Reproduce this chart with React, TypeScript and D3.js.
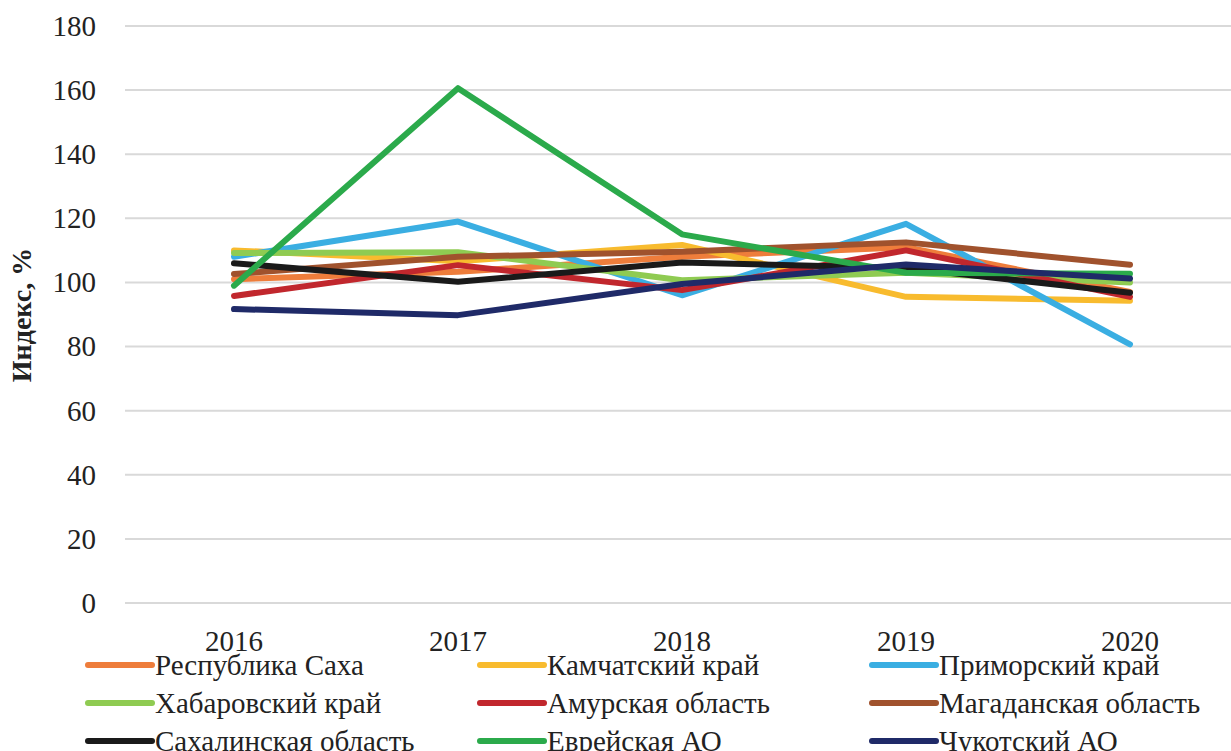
import React from "react";
import * as d3 from "d3";

const years = ["2016", "2017", "2018", "2019", "2020"];
const yTicks = [0, 20, 40, 60, 80, 100, 120, 140, 160, 180];

const seriesNames = [
  "Республика Саха",
  "Камчатский край",
  "Приморский край",
  "Хабаровский край",
  "Амурская область",
  "Магаданская область",
  "Сахалинская область",
  "Еврейская АО",
  "Чукотский АО",
];
const seriesColors = [
  "#EE7D3B",
  "#F8BB2E",
  "#3AAEE2",
  "#8FCB52",
  "#C1272D",
  "#A0522D",
  "#1A1A1A",
  "#2BAA4B",
  "#1F2A68",
];
const sakha = [101, 103.3, 108, 111, 97];
const kamchatka = [110, 106.6, 111.7, 95.5, 94.3];
const primorye = [108, 119, 96, 118.3, 80.7];
const khabarovsk = [109.2, 109.4, 100.7, 103, 100];
const amur = [95.8, 105.4, 97.6, 110, 95.5];
const magadan = [102.6, 108, 109.6, 112.5, 105.5];
const sakhalin = [106, 100.2, 106.2, 104.5, 96.8];
const jewish = [99, 160.6, 115, 103, 102.7];
const chukotka = [91.7, 89.8, 99.5, 105.6, 101.2];
const seriesValues = [sakha, kamchatka, primorye, khabarovsk, amur, magadan, sakhalin, jewish, chukotka];

const txt = { fontFamily: '"Liberation Serif"' };

export default function App() {
  const W = 1231;
  const H = 751;
  const x = d3.scalePoint<string>().domain(years).range([234, 1130]);
  const y = d3.scaleLinear().domain([0, 180]).range([603, 26]);
  const line = d3
    .line<number>()
    .x((_, i) => x(years[i]) as number)
    .y((d) => y(d));

  const legendCols = [88, 480, 872];
  const legendRows = [665, 703, 741];

  return (
    <svg width={W} height={H} style={{ position: "absolute", left: 0, top: 0, background: "#fff" }}>
      {yTicks.map((t) => (
        <g key={t}>
          <line x1={125} x2={W} y1={y(t)} y2={y(t)} stroke="#d9d9d9" strokeWidth={2} />
          <text x={96} y={y(t)} dy="0.34em" textAnchor="end" fontSize={29} fill="#222" style={txt}>
            {t}
          </text>
        </g>
      ))}
      <text
        transform={`translate(31, ${315}) rotate(-90)`}
        textAnchor="middle"
        fontSize={28}
        fontWeight="bold"
        fill="#222"
        style={txt}
      >
        Индекс, %
      </text>
      {years.map((yr) => (
        <text key={yr} x={x(yr)} y={651} textAnchor="middle" fontSize={29} fill="#222" style={txt}>
          {yr}
        </text>
      ))}
      {seriesValues.map((vals, i) => (
        <path
          key={seriesNames[i]}
          d={line(vals) || ""}
          fill="none"
          stroke={seriesColors[i]}
          strokeWidth={6}
          strokeLinejoin="round"
          strokeLinecap="round"
        />
      ))}
      {seriesNames.map((name, i) => {
        const cx = legendCols[i % 3];
        const cy = legendRows[Math.floor(i / 3)];
        return (
          <g key={name}>
            <line x1={cx} x2={cx + 64} y1={cy} y2={cy} stroke={seriesColors[i]} strokeWidth={6} strokeLinecap="round" />
            <text x={cx + 67} y={cy} dy="0.34em" fontSize={29} fill="#222" style={txt}>
              {name}
            </text>
          </g>
        );
      })}
    </svg>
  );
}
